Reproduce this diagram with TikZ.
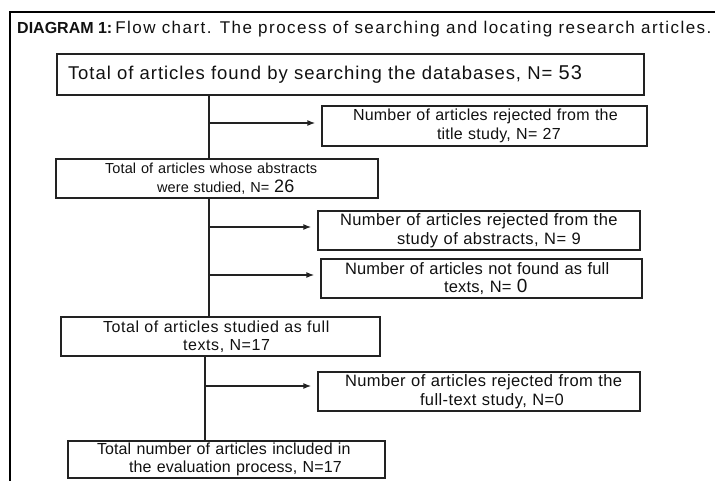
\documentclass[tikz,border=0pt]{standalone}
\usepackage{fontspec}
\setmainfont{Liberation Sans}
\usetikzlibrary{arrows.meta}
\newcommand\fs[2]{\fontsize{#1}{18.5}\selectfont\addfontfeature{LetterSpace=#2}}
\newcommand\ind[1]{\hspace*{#1pt}}
\definecolor{ink}{HTML}{111111}
\definecolor{edge}{HTML}{222222}
\tikzset{
  box/.style={draw=edge, line width=1.4pt, inner xsep=0pt, inner ysep=0pt, align=left, text=ink},
  ln/.style={draw=edge, line width=1.4pt},
  arr/.style={ln, -{Latex[length=8pt,width=6pt]}, shorten >=6pt},
}
\begin{document}
\begin{tikzpicture}[x=1pt,y=-1pt]
\useasboundingbox (0,0) rectangle (715,480);
\fill[white] (0,0) rectangle (715,480);
% frame
\draw[line width=2.6pt, draw=black] (10,495) -- (10,12) -- (725,12);
% title
\node[anchor=base west, inner sep=0pt, text=ink] (title) at (17,33)
  {{\fs{16}{0}\bfseries DIAGRAM 1:}\hspace{3pt}{\fs{17}{8.6}Flow chart. The process of searching and locating research articles.}};
% boxes
\node[box, minimum width=587, text width=587, minimum height=41, font={\fs{18.5}{5.2}}] (b1) at (350.5,74.5)
  {\ind{11}Total of articles found by searching the databases, N= {\fontsize{20}{20}\selectfont 53}};
\node[box, minimum width=325, text width=325, minimum height=40, font={\fs{16}{1.5}}] (r1) at (484.5,126)
  {\ind{31}Number of articles rejected from the\\\ind{115}title study, N= 27};
\node[box, minimum width=322, text width=322, minimum height=39, font={\fs{14.5}{1}}] (b2) at (217,178.5)
  {\ind{49}Total of articles whose abstracts\\\ind{101}were studied, N= {\fontsize{18}{18}\selectfont 26}};
\node[box, minimum width=322, text width=322, minimum height=39, font={\fs{16.5}{2.6}}] (r2) at (479,230.5)
  {\ind{22}Number of articles rejected from the\\\ind{79}study of abstracts, N= 9};
\node[box, minimum width=321, text width=321, minimum height=39, font={\fs{16.5}{1}}] (r3) at (481.5,278.5)
  {\ind{24}Number of articles not found as full\\\ind{123}texts, N= {\fontsize{19}{19}\selectfont 0}};
\node[box, minimum width=319, text width=319, minimum height=39, font={\fs{16}{3.7}}] (b3) at (220.5,336.5)
  {\ind{42}Total of articles studied as full\\\ind{122}texts, N=17};
\node[box, minimum width=322, text width=322, minimum height=39, font={\fs{16.5}{2.5}}] (r4) at (479,391.5)
  {\ind{27}Number of articles rejected from the\\\ind{102}full-text study, N=0};
\node[box, minimum width=317, text width=317, minimum height=37, font={\fs{16}{0.7}}] (b4) at (226.5,459.5)
  {\ind{29}Total number of articles included in\\\ind{61}the evaluation process, N=17};
% connectors
\coordinate (t1) at (209,123);
\coordinate (t2) at (209,227);
\coordinate (t3) at (209,275);
\coordinate (t4) at (205,386);
\draw[ln] (b1.south -| t1) -- (b2.north -| t1);
\draw[arr] (t1) -- (t1 -| r1.west);
\draw[ln] (b2.south -| t2) -- (b3.north -| t2);
\draw[arr] (t2) -- (t2 -| r2.west);
\draw[arr] (t3) -- (t3 -| r3.west);
\draw[ln] (b3.south -| t4) -- (b4.north -| t4);
\draw[arr] (t4) -- (t4 -| r4.west);
\end{tikzpicture}
\end{document}
